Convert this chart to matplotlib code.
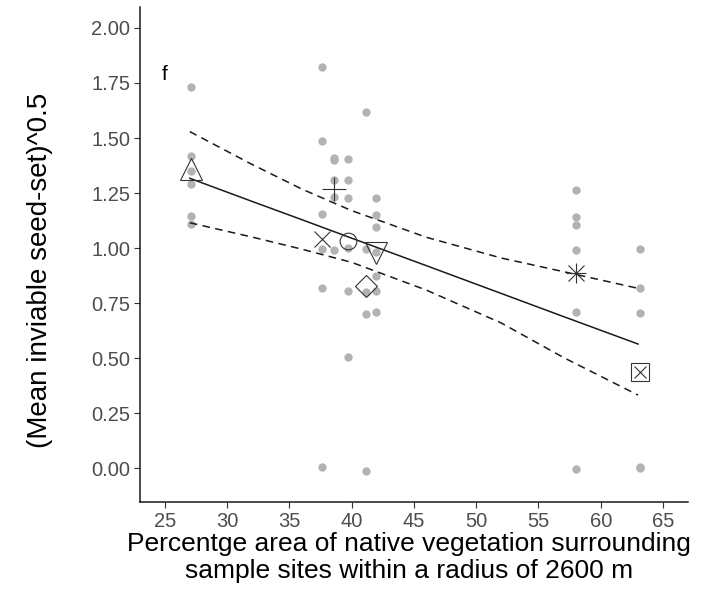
import numpy as np
import matplotlib.pyplot as plt

plt.rcParams['font.family'] = ['Liberation Sans', 'DejaVu Sans']

# % native vegetation within 2600 m of each site
site_x = [27.06, 37.58, 38.59, 39.71, 41.19, 41.99, 57.99, 63.12]

# square-root of mean inviable seed-set, one list per site
site_vals = [
    [1.733, 1.42, 1.35, 1.29, 1.145, 1.108],
    [1.824, 1.486, 1.155, 0.994, 0.817, 0.003],
    [1.41, 1.40, 1.309, 1.233, 0.991],
    [1.403, 1.309, 1.226, 0.999, 0.805, 0.506],
    [1.62, 0.994, 0.80, 0.70, -0.012],
    [1.226, 1.15, 1.097, 0.983, 0.873, 0.805, 0.71],
    [1.264, 1.142, 1.105, 0.991, 0.708, -0.005],
    [0.994, 0.82, 0.705, 0.0, 0.005],
]

# site means
site_mean = [1.36, 1.04, 1.27, 1.033, 0.827, 0.977, 0.888, 0.438]
site_shape = ['^', 'x', '+', 'o', 'D', 'v', '*', 'sx']

# fitted line and 95% band
fit_x = [27, 32, 36, 40, 46, 52, 57, 63]
fit_y = [1.317, 1.212, 1.129, 1.045, 0.920, 0.794, 0.689, 0.564]
ci_hi = [1.529, 1.38, 1.268, 1.17, 1.049, 0.955, 0.893, 0.817]
ci_lo = [1.115, 1.05, 0.995, 0.935, 0.809, 0.66, 0.503, 0.332]

xticks = [25, 30, 35, 40, 45, 50, 55, 60, 65]
yticks = [0.0, 0.25, 0.5, 0.75, 1.0, 1.25, 1.5, 1.75, 2.0]

fig = plt.figure(figsize=(7.18, 5.89), dpi=100)
ax = fig.add_axes([0.195, 0.148, 0.763, 0.840])

for x, vals in zip(site_x, site_vals):
    ax.plot([x] * len(vals), vals, 'o', ms=6, color='#b3b3b3', mec='none', zorder=2)

ax.plot(fit_x, fit_y, color='#1a1a1a', lw=1.1, zorder=3)
ax.plot(fit_x, ci_hi, color='#1a1a1a', lw=1.1, ls=(0, (5, 3.5)), zorder=3)
ax.plot(fit_x, ci_lo, color='#1a1a1a', lw=1.1, ls=(0, (5, 3.5)), zorder=3)

mk = dict(color='#333333', mfc='none', mew=0.8, ls='none', zorder=4)
sizes = {'^': 16, 'x': 12, '+': 17, 'o': 12, 'D': 11.5, 'v': 16}
for x, m, s in zip(site_x, site_mean, site_shape):
    if s == '*':
        ax.plot(x, m, marker='+', ms=15, **mk)
        ax.plot(x, m, marker='x', ms=11, **mk)
    elif s == 'sx':
        ax.plot(x, m, marker='s', ms=13, **mk)
        ax.plot(x, m, marker='x', ms=9, **mk)
    else:
        ax.plot(x, m, marker=s, ms=sizes[s], **mk)

ax.text(25.0, 1.79, 'f', fontsize=15, ha='center', va='center', color='black')

ax.set_xlim(23.0, 67.0)
ax.set_ylim(-0.153, 2.095)
ax.set_xticks(xticks)
ax.set_yticks(yticks)
ax.set_yticklabels([f'{v:.2f}' for v in yticks])
for side in ['top', 'right']:
    ax.spines[side].set_visible(False)
for side in ['left', 'bottom']:
    ax.spines[side].set_linewidth(1.1)
    ax.spines[side].set_color('#1a1a1a')
ax.tick_params(axis='both', length=4, width=0.8, color='#333333',
               labelsize=14.5, labelcolor='#4d4d4d', pad=3)

ax.set_xlabel('Percentge area of native vegetation surrounding\nsample sites within a radius of 2600 m',
              fontsize=19, color='black', labelpad=2, linespacing=1.2)
ax.xaxis.set_label_coords(0.491, -0.06, transform=ax.transAxes)
ax.xaxis.label.set_va('top')
fig.text(40 / 718, 1 - 270 / 589, '(Mean inviable seed-set)^0.5', fontsize=20,
         rotation=90, ha='center', va='center', color='black')

fig.savefig('out.png', dpi=100)
